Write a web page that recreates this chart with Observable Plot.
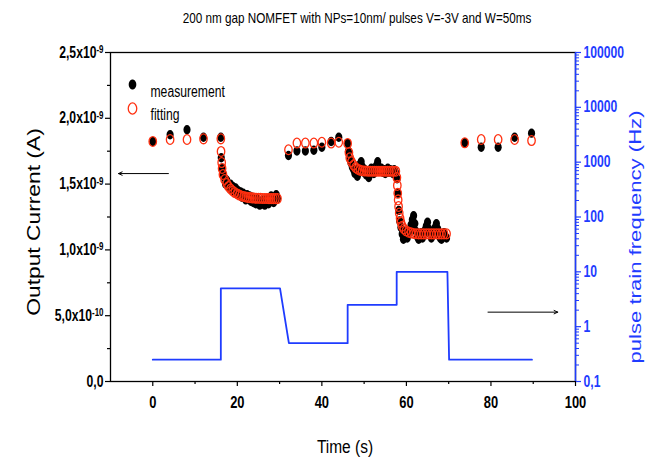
<!DOCTYPE html>
<html><head><meta charset="utf-8">
<script src="https://cdn.jsdelivr.net/npm/d3@7"></script>
<script src="https://cdn.jsdelivr.net/npm/@observablehq/plot@0.6"></script>
<style>
html,body{margin:0;padding:0;background:#fff;}
#wrap{position:relative;width:654px;height:464px;overflow:hidden;background:#fff;}
#wrap > div.layer{position:absolute;left:0;top:0;}
.t{position:absolute;white-space:nowrap;line-height:1;}
#title{left:357px;top:17px;transform:translate(-50%,-50%) scaleX(0.78);font:15px "Liberation Sans",Arial,sans-serif;color:#000;}
#ylab{left:34px;top:222px;transform:translate(-50%,-50%) rotate(-90deg) scaleX(1.2);font:19px "Liberation Sans",Arial,sans-serif;color:#000;}
#y2lab{left:636px;top:237px;transform:translate(-50%,-50%) rotate(-90deg) scaleX(1.3);font:17px "Liberation Sans",Arial,sans-serif;color:#1f3cff;}
#xlab{left:345px;top:447px;transform:translate(-50%,-50%) scaleX(0.86);font:18px "Liberation Sans",Arial,sans-serif;color:#000;}
</style></head><body>
<div id="wrap">
 <div class="layer" id="p1"></div>
 <div class="layer" id="p2"></div>
 <div class="t" id="title">200 nm gap NOMFET with NPs=10nm/ pulses V=-3V and W=50ms</div>
 <div class="t" id="ylab">Output Current (A)</div>
 <div class="t" id="y2lab">pulse train frequency (Hz)</div>
 <div class="t" id="xlab">Time (s)</div>
</div>
<script>
// ---- data (current in units of 1e-9 A, time in s, frequency in Hz) ----
const measT = [0, 4.1, 8.1, 12.0, 16.1,
  16.2,16.4,16.6,16.9,17.2,17.5,17.8,18.1,18.4,18.7,19.0,19.3,19.6,19.9,20.2,20.5,20.8,21.1,21.4,21.7,22.0,22.3,22.6,22.9,23.2,23.5,23.8,24.1,24.4,24.7,25.0,25.3,25.6,25.9,26.2,26.5,26.8,27.1,27.4,27.7,28.0,28.3,28.6,28.9,29.2,29.5,
  32.1,34.1,36.1,38.1,40.0,42.2,44.0,46.1,
  46.3,46.6,46.9,47.2,47.5,47.8,48.1,48.4,48.7,49.0,49.3,49.6,49.9,50.2,50.5,50.8,51.1,51.4,51.7,52.0,52.3,52.6,52.9,53.2,53.5,53.8,54.1,54.4,54.7,55.0,55.3,55.6,55.9,56.2,56.5,56.8,57.1,57.4,
  57.8,58.0,58.2,58.4,58.7,59.0,59.3,59.6,59.9,60.2,60.5,60.8,61.1,61.4,61.7,62.0,62.3,62.6,62.9,63.2,63.5,63.8,64.1,64.4,64.7,65.0,65.3,65.6,65.9,66.2,66.5,66.8,67.1,67.4,67.7,68.0,68.3,68.6,68.9,69.2,69.5,
  73.8,77.7,81.7,85.6,89.6];
const measI = [1.824,1.875,1.913,1.856,1.856,
  1.70,1.62,1.58,1.55,1.50,1.53,1.49,1.47,1.50,1.46,1.48,1.44,1.47,1.43,1.45,1.42,1.44,1.40,1.43,1.41,1.38,1.42,1.39,1.41,1.37,1.40,1.36,1.38,1.35,1.39,1.36,1.34,1.37,1.35,1.38,1.34,1.36,1.39,1.35,1.37,1.41,1.38,1.36,1.40,1.42,1.39,
  1.717,1.752,1.752,1.757,1.780,1.824,1.856,1.809,
  1.75,1.69,1.66,1.63,1.61,1.58,1.60,1.56,1.62,1.65,1.67,1.63,1.59,1.61,1.57,1.60,1.55,1.58,1.62,1.60,1.58,1.61,1.64,1.67,1.63,1.60,1.62,1.59,1.61,1.58,1.60,1.62,1.59,1.61,1.60,1.58,1.61,1.59,
  1.54,1.43,1.30,1.22,1.17,1.12,1.08,1.10,1.14,1.09,1.12,1.15,1.19,1.23,1.26,1.20,1.14,1.10,1.08,1.11,1.13,1.09,1.12,1.15,1.18,1.21,1.16,1.12,1.09,1.11,1.14,1.17,1.20,1.16,1.12,1.09,1.08,1.11,1.13,1.10,1.09,
  1.814,1.780,1.780,1.856,1.887];
const fitT = [0, 4.1, 8.1, 12.0, 16.1,
  16.15,16.3,16.4,16.6,17.0,17.5,17.9,18.4,18.9,19.4,20.0,20.5,21.0,21.5,22.0,22.5,23.0,23.5,24.0,24.5,25.0,25.5,26.0,26.5,27.0,27.5,28.0,28.5,29.0,29.5,
  32.1,34.1,36.1,38.1,40.0,42.2,44.0,
  46.1,46.4,46.6,47.0,47.5,48.0,48.5,49.0,49.5,50.0,50.5,51.0,51.5,52.0,52.5,53.0,53.5,54.0,54.5,55.0,55.5,56.0,56.5,57.0,57.5,
  57.75,57.85,57.95,58.05,58.15,58.3,58.5,58.7,59.0,59.4,59.9,60.5,61.1,61.7,62.3,62.9,63.5,64.1,64.7,65.3,65.9,66.5,67.1,67.7,68.3,68.9,69.5,
  73.8,77.7,81.7,85.6,89.6];
const fitI = [1.824,1.839,1.839,1.844,1.844,
  1.748,1.664,1.619,1.573,1.535,1.505,1.482,1.463,1.448,1.436,1.425,1.417,1.410,1.406,1.402,1.399,1.397,1.395,1.394,1.393,1.392,1.392,1.391,1.391,1.391,1.390,1.390,1.390,1.390,1.390,
  1.761,1.812,1.812,1.812,1.818,1.812,1.818,
  1.809,1.74,1.70,1.67,1.645,1.625,1.613,1.606,1.602,1.600,1.599,1.598,1.598,1.598,1.598,1.598,1.598,1.598,1.598,1.598,1.598,1.598,1.598,1.598,1.598,
  1.55,1.49,1.43,1.38,1.33,1.28,1.24,1.21,1.18,1.16,1.145,1.135,1.129,1.125,1.123,1.122,1.122,1.122,1.122,1.122,1.122,1.122,1.122,1.122,1.122,1.122,1.122,
  1.814,1.839,1.839,1.839,1.831];
const freqT  = [0, 16.1, 16.1, 30.1, 32.2, 46.1, 46.1, 57.7, 57.7, 69.7, 70.1, 89.7];
const freqHz = [0.25, 0.25, 5, 5, 0.5, 0.5, 2.5, 2.5, 10, 10, 0.25, 0.25];

const xTicks = [0, 20, 40, 60, 80, 100];
const xTickLabels = ["0", "20", "40", "60", "80", "100"];
const xMinorTicks = [10, 30, 50, 70, 90];
const yTicks = [0, 0.5, 1.0, 1.5, 2.0, 2.5];
const yTickLabels = ["0,0", "5,0x10^-10", "1,0x10^-9", "1,5x10^-9", "2,0x10^-9", "2,5x10^-9"];
const yMinorTicks = [0.25, 0.75, 1.25, 1.75, 2.25];
const fTicks = [0.1, 1, 10, 100, 1000, 10000, 100000];
const fTickLabels = ["0,1", "1", "10", "100", "1000", "10000", "100000"];
const legendLabels = ["measurement", "fitting"];
// annotation arrows (x in s, y in 1e-9 A)
const arrowX1 = [3.7, 79.3];
const arrowX2 = [-8.1, 95.8];
const arrowY  = [1.58, 0.527];

// ---- styles ----
const RED = "#ff3010";
const BLUE = "#1f3cff";
const FN = '"Liberation Sans",Arial,sans-serif';
const SQ = 0.76; // horizontal squeeze of the original's lettering
const W = 654, H = 464, MT = 52, MB = 83, ML = 110, MR = 79;

const ellipse = {
  draw(ctx, size) {
    const r = Math.sqrt(size / Math.PI), rx = r * 0.76, ry = r, k = 0.5523;
    ctx.moveTo(rx, 0);
    ctx.bezierCurveTo(rx, ry * k, rx * k, ry, 0, ry);
    ctx.bezierCurveTo(-rx * k, ry, -rx, ry * k, -rx, 0);
    ctx.bezierCurveTo(-rx, -ry * k, -rx * k, -ry, 0, -ry);
    ctx.bezierCurveTo(rx * k, -ry, rx, -ry * k, rx, 0);
    ctx.closePath();
  }
};

const xLab = new Map(xTicks.map((v, i) => [v, xTickLabels[i]]));
const yLab = new Map(yTicks.map((v, i) => [v, yTickLabels[i]]));
const fLab = new Map(fTicks.map((v, i) => [v, fTickLabels[i]]));
const fMinor = [];
for (let e = -1; e < 5; e++) for (let m = 2; m <= 9; m++) fMinor.push(m * Math.pow(10, e));

const mi = d3.range(measT.length), fi = d3.range(fitT.length), ai = d3.range(arrowX1.length);

const isPx = v => v != null && /^-?[\d.]+(px)?$/.test(v.trim());
function squeeze(svg) {
  svg.querySelectorAll("text").forEach(t => {
    let pre = "";
    const xa = t.getAttribute("x"), ya = t.getAttribute("y");
    let tx = 0, ty = 0;
    if (isPx(xa)) { tx = parseFloat(xa); t.removeAttribute("x"); }
    if (isPx(ya)) { ty = parseFloat(ya); t.removeAttribute("y"); }
    if (tx || ty) pre = ` translate(${tx},${ty})`;
    const tr = t.getAttribute("transform") || "";
    t.setAttribute("transform", `${tr}${pre} scale(${SQ},1)`);
  });
}

const p1 = Plot.plot({
  width: W, height: H, marginTop: MT, marginBottom: MB, marginLeft: ML, marginRight: MR,
  style: {background: "transparent", fontFamily: FN, color: "#000"},
  x: {domain: [-10, 100]},
  y: {domain: [0, 2.5]},
  marks: [
    Plot.frame({stroke: "#000", strokeWidth: 1.3}),
    Plot.axisX({ticks: xTicks, tickSize: 5, tickPadding: 9, tickFormat: d => xLab.get(d), fontSize: 17, fontWeight: "bold", fontFamily: FN, strokeWidth: 1.2, label: null}),
    Plot.axisX({ticks: xMinorTicks, tickSize: 3, tickFormat: () => "", strokeWidth: 1.2, label: null}),
    Plot.axisY({ticks: yTicks, tickSize: 5, tickPadding: 2, tickFormat: d => yLab.get(d), fontSize: 16, fontWeight: "bold", fontFamily: FN, strokeWidth: 1.2, label: null}),
    Plot.axisY({ticks: yMinorTicks, tickSize: 3, tickFormat: () => "", strokeWidth: 1.2, label: null}),
    Plot.dot(mi, {x: i => measT[i], y: i => measI[i], r: 4.7, symbol: ellipse, fill: "#000", stroke: "none"}),
    Plot.dot(fi, {x: i => fitT[i], y: i => fitI[i], r: 4.9, symbol: ellipse, fill: "none", stroke: RED, strokeWidth: 1.3}),
    Plot.arrow(ai, {x1: i => arrowX1[i], y1: i => arrowY[i], x2: i => arrowX2[i], y2: i => arrowY[i], stroke: "#000", strokeWidth: 1, headLength: 6, headAngle: 50}),
    Plot.dot([legendLabels[0]], {frameAnchor: "top-left", dx: 22, dy: 32, r: 5, symbol: ellipse, fill: "#000", stroke: "none"}),
    Plot.dot([legendLabels[1]], {frameAnchor: "top-left", dx: 22, dy: 56, r: 5.6, symbol: ellipse, fill: "none", stroke: RED, strokeWidth: 1.3}),
    Plot.text([legendLabels[0]], {frameAnchor: "top-left", dx: 40, dy: 33, textAnchor: "start", fontSize: 16, fontFamily: FN, fill: "#000"}),
    Plot.text([legendLabels[1]], {frameAnchor: "top-left", dx: 40, dy: 56, textAnchor: "start", fontSize: 16, fontFamily: FN, fill: "#000"})
  ]
});
document.getElementById("p1").appendChild(p1);

// superscripts for exponent tick labels
p1.querySelectorAll('[aria-label="y-axis tick label"] text').forEach(t => {
  const s = t.textContent;
  const k = s.indexOf("^");
  if (k < 0) return;
  while (t.firstChild) t.removeChild(t.firstChild);
  const ns = "http://www.w3.org/2000/svg";
  const a = document.createElementNS(ns, "tspan"); a.textContent = s.slice(0, k);
  const b = document.createElementNS(ns, "tspan"); b.textContent = s.slice(k + 1);
  b.setAttribute("dy", "-0.45em"); b.setAttribute("font-size", "10.5");
  t.appendChild(a); t.appendChild(b);
});
squeeze(p1);

const p2 = Plot.plot({
  width: W, height: H, marginTop: MT, marginBottom: MB, marginLeft: ML, marginRight: MR,
  style: {background: "transparent", fontFamily: FN, color: BLUE},
  x: {domain: [-10, 100], axis: null},
  y: {type: "log", domain: [0.1, 100000]},
  marks: [
    Plot.ruleX([100], {stroke: BLUE, strokeWidth: 1.5}),
    Plot.axisY({anchor: "right", ticks: fTicks, tickSize: 5, tickPadding: 3, tickFormat: d => fLab.get(d), fontSize: 16, fontWeight: "bold", fontFamily: FN, stroke: BLUE, fill: BLUE, strokeWidth: 1.2, label: null}),
    Plot.axisY({anchor: "right", ticks: fMinor, tickSize: 3, tickFormat: () => "", stroke: BLUE, strokeWidth: 1, label: null}),
    Plot.line(d3.range(freqT.length), {x: i => freqT[i], y: i => freqHz[i], stroke: BLUE, strokeWidth: 1.8})
  ]
});
document.getElementById("p2").appendChild(p2);
squeeze(p2);
</script>
</body></html>
